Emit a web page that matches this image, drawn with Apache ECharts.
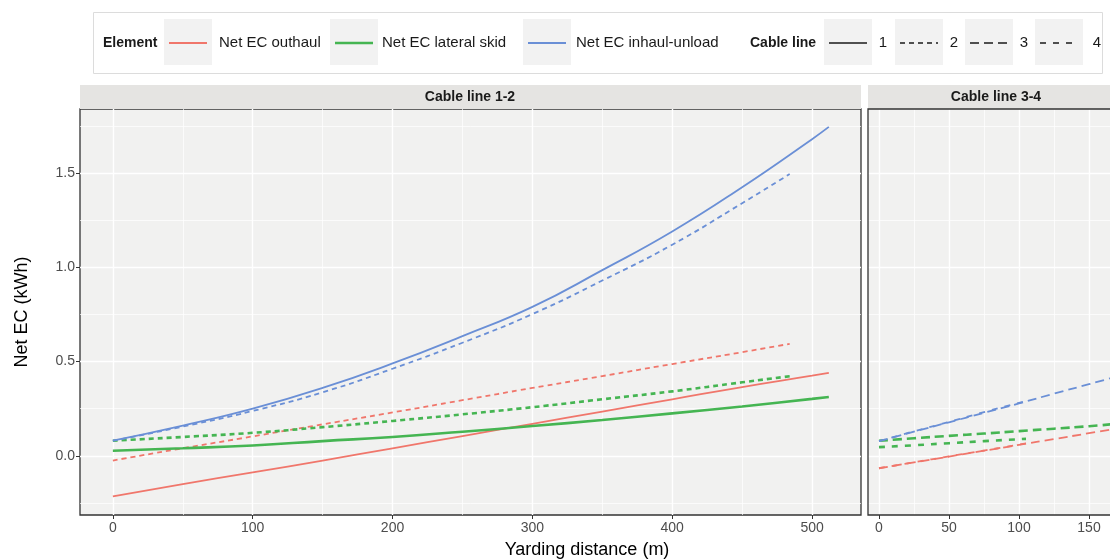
<!DOCTYPE html>
<html>
<head>
<meta charset="utf-8">
<script src="https://cdn.jsdelivr.net/npm/echarts@6/dist/echarts.min.js"></script>
<style>
  html, body { margin: 0; padding: 0; background: #fff; }
  #chart { width: 1110px; height: 560px; }
</style>
</head>
<body>
<div id="chart"></div>
<script>
var FONT = '"Liberation Sans", Arial, sans-serif';

// legend entries
var elementNames = ['Net EC outhaul', 'Net EC lateral skid', 'Net EC inhaul-unload'];
var elementColors = ['#f0766b', '#45b552', '#6a8fd6'];
var cableNames = ['1', '2', '3', '4'];
var cableDash = ['solid', [5, 4], [9, 5], [6, 7]];

// yarding distance (m) per cable line
var xCable1 = [0, 50, 100, 150, 200, 250, 300, 350, 400, 450, 500, 512];
var xCable2 = [0, 50, 100, 150, 200, 250, 300, 350, 400, 450, 484];
var xCable3 = [0, 25, 50, 75, 100, 125, 150, 167];
var xCable4 = [0, 25, 50, 75, 105];

// Net EC (kWh) - cable line 1
var outhaul1 = [-0.215, -0.15, -0.088, -0.025, 0.04, 0.105, 0.17, 0.235, 0.30, 0.365, 0.425, 0.44];
var lateral1 = [0.027, 0.04, 0.055, 0.078, 0.10, 0.128, 0.158, 0.19, 0.225, 0.262, 0.302, 0.312];
var inhaul1 = [0.08, 0.16, 0.25, 0.36, 0.49, 0.635, 0.79, 0.985, 1.19, 1.425, 1.68, 1.745];
// cable line 2
var outhaul2 = [-0.025, 0.04, 0.103, 0.167, 0.23, 0.295, 0.36, 0.423, 0.487, 0.55, 0.594];
var lateral2 = [0.08, 0.10, 0.122, 0.152, 0.185, 0.22, 0.258, 0.30, 0.342, 0.39, 0.422];
var inhaul2 = [0.08, 0.155, 0.238, 0.337, 0.462, 0.60, 0.752, 0.93, 1.12, 1.34, 1.495];
// cable line 3
var outhaul3 = [-0.066, -0.035, -0.004, 0.027, 0.058, 0.089, 0.12, 0.141];
var lateral3 = [0.08, 0.093, 0.106, 0.118, 0.131, 0.144, 0.157, 0.168];
var inhaul3 = [0.078, 0.128, 0.178, 0.228, 0.278, 0.33, 0.38, 0.415];
// cable line 4
var outhaul4 = [-0.066, -0.034, -0.003, 0.028, 0.066];
var lateral4 = [0.046, 0.056, 0.067, 0.078, 0.09];
var inhaul4 = [0.078, 0.13, 0.18, 0.232, 0.29];

// ticks
var xTicks12 = [0, 100, 200, 300, 400, 500];
var xMinor12 = [50, 150, 250, 350, 450];
var xTicks34 = [0, 50, 100, 150];
var xMinor34 = [25, 75, 125];
var yTicks = [0, 0.5, 1, 1.5];
var yMinor = [-0.25, 0.25, 0.75, 1.25, 1.75];

var lines = [
  { panel: 0, cable: 0, element: 0, x: xCable1, y: outhaul1 },
  { panel: 0, cable: 1, element: 0, x: xCable2, y: outhaul2 },
  { panel: 0, cable: 0, element: 1, x: xCable1, y: lateral1 },
  { panel: 0, cable: 1, element: 1, x: xCable2, y: lateral2 },
  { panel: 0, cable: 0, element: 2, x: xCable1, y: inhaul1 },
  { panel: 0, cable: 1, element: 2, x: xCable2, y: inhaul2 },
  { panel: 1, cable: 2, element: 0, x: xCable3, y: outhaul3 },
  { panel: 1, cable: 3, element: 0, x: xCable4, y: outhaul4 },
  { panel: 1, cable: 2, element: 1, x: xCable3, y: lateral3 },
  { panel: 1, cable: 3, element: 1, x: xCable4, y: lateral4 },
  { panel: 1, cable: 2, element: 2, x: xCable3, y: inhaul3 },
  { panel: 1, cable: 3, element: 2, x: xCable4, y: inhaul4 }
];

function lineWidth(el) {
  return el === 1 ? 2.6 : 1.8;
}

function majorAxis(dim, grid, min, max, ticks, showLabels) {
  return {
    type: 'value', gridIndex: grid, min: min, max: max,
    position: dim === 'x' ? 'bottom' : 'left',
    axisLine: { show: false, onZero: false },
    axisTick: { show: showLabels, length: 4, lineStyle: { color: '#333' }, customValues: ticks },
    axisLabel: {
      show: showLabels, customValues: ticks, color: '#4d4d4d', fontSize: 14,
      fontFamily: FONT, margin: dim === 'x' ? 6 : 5,
      formatter: function (v) { return dim === 'y' ? v.toFixed(1) : String(v); }
    },
    splitLine: { show: true, lineStyle: { color: '#ffffff', width: 1.4 } }
  };
}

// minor grid lines live on an overlaid, invisible grid
function minorAxis(dim, grid, min, max, ticks) {
  return {
    type: 'value', gridIndex: grid, min: min, max: max,
    position: dim === 'x' ? 'bottom' : 'left',
    axisLine: { show: false, onZero: false },
    axisTick: { show: false, customValues: ticks },
    axisLabel: { show: false },
    splitLine: { show: true, lineStyle: { color: '#ffffff', width: 0.7 } }
  };
}

var yMin = -0.314, yMax = 1.84;
var x12Min = -23.5, x12Max = 535;
var x34Min = -7.857, x34Max = 165;

var series = lines.map(function (l) {
  return {
    type: 'line',
    xAxisIndex: l.panel * 2,
    yAxisIndex: l.panel * 2,
    data: l.x.map(function (v, i) { return [v, l.y[i]]; }),
    symbol: 'none',
    smooth: true,
    silent: true,
    lineStyle: { color: elementColors[l.element], width: lineWidth(l.element), type: cableDash[l.cable] }
  };
});

// legend drawn as graphic
var graphics = [];
graphics.push({ type: 'rect', shape: { x: 93.5, y: 12.5, width: 1009, height: 61 },
  style: { fill: '#fff', stroke: '#dcdcdc', lineWidth: 1 } });
var keyX = [164, 330, 523, 824, 895, 965, 1035];
keyX.forEach(function (kx, i) {
  graphics.push({ type: 'rect', shape: { x: kx, y: 19, width: 48, height: 46 }, style: { fill: '#f2f2f2' } });
  var stroke = i < 3 ? elementColors[i] : '#1a1a1a';
  var w = i < 3 ? lineWidth(i) : 1.6;
  var dash = i < 3 ? null : (cableDash[i - 3] === 'solid' ? null : cableDash[i - 3]);
  graphics.push({ type: 'line', shape: { x1: kx + 5, y1: 43, x2: kx + 43, y2: 43 },
    style: { stroke: stroke, lineWidth: w, lineDash: dash } });
});
function txt(x, y, s, opts) {
  opts = opts || {};
  return {
    type: 'text', x: x, y: y, rotation: opts.rotation || 0,
    style: {
      text: s, fontFamily: FONT, fontSize: opts.size || 15, fontWeight: opts.bold ? 'bold' : 'normal',
      fill: opts.color || '#1a1a1a', align: opts.align || 'left', verticalAlign: 'middle'
    }
  };
}
graphics.push(txt(103, 43, 'Element', { bold: true, size: 14 }));
var elemLabelX = [219, 382, 576];
elementNames.forEach(function (n, i) { graphics.push(txt(elemLabelX[i], 43, n)); });
graphics.push(txt(750, 43, 'Cable line', { bold: true, size: 14 }));
var cableLabelX = [883, 954, 1024, 1097];
cableNames.forEach(function (n, i) { graphics.push(txt(cableLabelX[i], 43, n, { align: 'center' })); });

// facet strips
graphics.push({ type: 'rect', shape: { x: 80, y: 85, width: 781, height: 24 }, style: { fill: '#e5e4e2' } });
graphics.push({ type: 'rect', shape: { x: 868, y: 85, width: 256, height: 24 }, style: { fill: '#e5e4e2' } });
graphics.push(txt(470, 97, 'Cable line 1-2', { bold: true, size: 14, align: 'center' }));
graphics.push(txt(996, 97, 'Cable line 3-4', { bold: true, size: 14, align: 'center' }));

// second panel runs past the right edge: open border on that side
graphics.push({ type: 'polyline', z: 10, shape: { points: [[1130, 109], [868, 109], [868, 515], [1130, 515]] },
  style: { fill: null, stroke: '#333', lineWidth: 1.3 } });

// axis titles
graphics.push(txt(22, 312, 'Net EC (kWh)', { size: 18, align: 'center', rotation: Math.PI / 2, color: '#000' }));
graphics.push(txt(587, 550, 'Yarding distance (m)', { size: 18, align: 'center', color: '#000' }));

var panel1 = { left: 80, top: 109, width: 781, height: 406 };
var panel2 = { left: 868, top: 109, width: 242, height: 406 };

var chart = echarts.init(document.getElementById('chart'), null, { renderer: 'canvas' });
chart.setOption({
  animation: false,
  backgroundColor: '#ffffff',
  grid: [
    Object.assign({ show: true, backgroundColor: '#f1f1f0', borderColor: '#333', borderWidth: 1.3 }, panel1),
    Object.assign({ show: false }, panel1),
    Object.assign({ show: true, backgroundColor: '#f1f1f0', borderWidth: 0 }, panel2),
    Object.assign({ show: false }, panel2)
  ],
  xAxis: [
    majorAxis('x', 0, x12Min, x12Max, xTicks12, true),
    minorAxis('x', 1, x12Min, x12Max, xMinor12),
    majorAxis('x', 2, x34Min, x34Max, xTicks34, true),
    minorAxis('x', 3, x34Min, x34Max, xMinor34)
  ],
  yAxis: [
    majorAxis('y', 0, yMin, yMax, yTicks, true),
    minorAxis('y', 1, yMin, yMax, yMinor),
    majorAxis('y', 2, yMin, yMax, yTicks, false),
    minorAxis('y', 3, yMin, yMax, yMinor)
  ],
  series: series,
  graphic: graphics
});
</script>
</body>
</html>
